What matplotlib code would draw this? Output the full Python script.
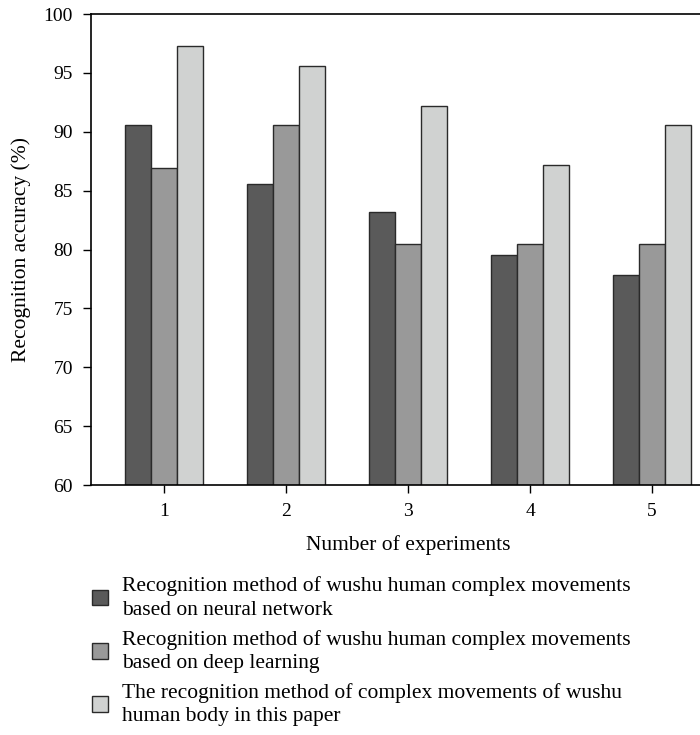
import numpy as np
import matplotlib
matplotlib.use("Agg")
import matplotlib.pyplot as plt

# data
experiments = [1, 2, 3, 4, 5]
neural_network = [90.6, 85.6, 83.2, 79.5, 77.8]
deep_learning = [86.9, 90.6, 80.5, 80.5, 80.5]
this_paper = [97.3, 95.6, 92.2, 87.2, 90.6]
series_labels = [
    "Recognition method of wushu human complex movements\nbased on neural network",
    "Recognition method of wushu human complex movements\nbased on deep learning",
    "The recognition method of complex movements of wushu\nhuman body in this paper",
]
colors = ["#5a5a5a", "#999999", "#d0d2d1"]

plt.rcParams["font.family"] = ["Liberation Serif", "DejaVu Serif"]
plt.rcParams["font.size"] = 14

fig = plt.figure(figsize=(7.0, 7.35), dpi=100)
# the right edge of the plot is cut off in the reference
ax = fig.add_axes([0.13, 0.3401, 0.906, 0.6408])

x = np.array(experiments)
w = 0.213
handles = []
for i, vals in enumerate([neural_network, deep_learning, this_paper]):
    b = ax.bar(x + (i - 1) * w, vals, width=w, color=colors[i],
               edgecolor="#2a2a2a", linewidth=1.0, label=series_labels[i])
    handles.append(b)

ax.set_xlim(0.4, 5.6)
ax.set_ylim(60, 100)
ax.set_xticks(experiments)
ax.set_yticks(range(60, 101, 5))
ax.set_xlabel("Number of experiments", fontsize=15.5, labelpad=11)
ax.set_ylabel("Recognition accuracy (%)", fontsize=15.5, labelpad=9)
ax.tick_params(direction="out", length=6, width=1.0, pad=7)
for s in ax.spines.values():
    s.set_linewidth(1.2)

leg = fig.legend(handles=handles, labels=series_labels, loc="upper left",
                 bbox_to_anchor=(0.131, 0.2156), frameon=False, fontsize=15.5,
                 handlelength=0.75, handleheight=0.75, handletextpad=0.65,
                 labelspacing=0.47, borderaxespad=0, borderpad=0)
for t in leg.get_texts():
    t.set_linespacing(1.3)

fig.savefig("out.png", dpi=100)
